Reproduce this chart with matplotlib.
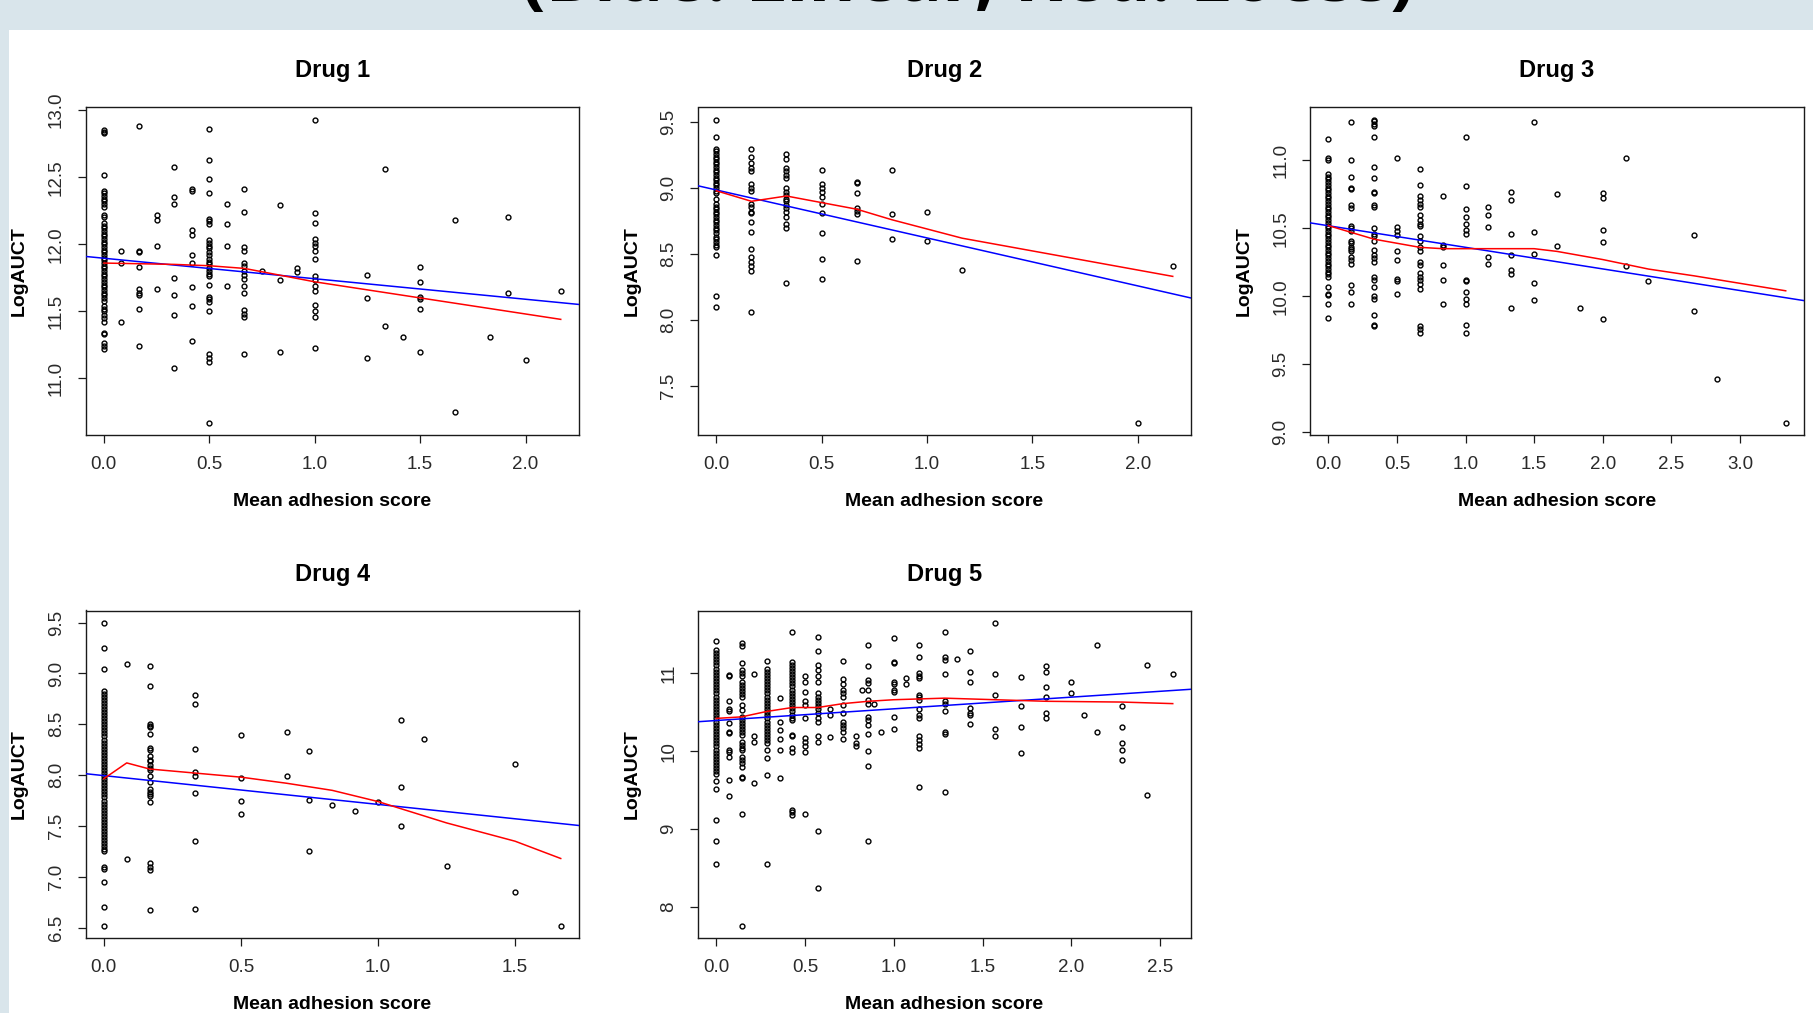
import matplotlib
matplotlib.use('Agg')
import matplotlib.pyplot as plt
from matplotlib.patches import Rectangle
import numpy as np

plt.rcParams['font.family'] = ['Liberation Sans', 'DejaVu Sans']

# ---------------- DATA ----------------
slide_title = "(Blue: Linear; Red: Loess)"
titles = ["Drug 1", "Drug 2", "Drug 3", "Drug 4", "Drug 5"]
x_label = "Mean adhesion score"
y_label = "LogAUCT"

# Drug 1
d1_scores = [0, 1/12, 1/6, 0.25, 1/3, 5/12, 0.5, 7/12, 2/3, 0.75, 5/6, 11/12, 1.0,
             1.25, 4/3, 17/12, 1.5, 5/3, 11/6, 23/12, 2.0, 13/6]
d1_logauct = [
    [12.85, 12.84, 12.83, 12.52, 12.40, 12.38, 12.36, 12.34, 12.32, 12.30, 12.28, 12.22, 12.20,
     12.16, 12.14, 12.12, 12.10, 12.08, 12.06, 12.04, 12.02, 12.00, 11.98, 11.96, 11.94, 11.92,
     11.90, 11.88, 11.86, 11.84, 11.82, 11.80, 11.78, 11.76, 11.74, 11.72, 11.70, 11.68, 11.66,
     11.64, 11.62, 11.60, 11.58, 11.54, 11.52, 11.50, 11.47, 11.45, 11.42, 11.34, 11.33, 11.26,
     11.24, 11.22],
    [11.95, 11.86, 11.42],
    [12.88, 11.95, 11.94, 11.83, 11.67, 11.64, 11.62, 11.52, 11.24],
    [12.22, 12.18, 11.99, 11.67],
    [12.58, 12.35, 12.30, 11.75, 11.62, 11.47, 11.08],
    [12.41, 12.40, 12.11, 12.07, 11.92, 11.86, 11.68, 11.54, 11.28],
    [12.86, 12.63, 12.49, 12.38, 12.19, 12.17, 12.15, 12.03, 12.01, 11.99, 11.97, 11.94, 11.92,
     11.89, 11.87, 11.85, 11.82, 11.80, 11.78, 11.76, 11.70, 11.61, 11.59, 11.57, 11.50, 11.18,
     11.15, 11.12, 10.67],
    [12.30, 12.15, 11.99, 11.69],
    [12.41, 12.24, 11.98, 11.95, 11.86, 11.84, 11.80, 11.77, 11.74, 11.69, 11.64, 11.51, 11.48,
     11.46, 11.18],
    [11.80],
    [12.29, 11.73, 11.20],
    [11.82, 11.79],
    [12.93, 12.23, 12.16, 12.04, 12.01, 11.99, 11.95, 11.89, 11.76, 11.73, 11.69, 11.65, 11.55,
     11.50, 11.46, 11.23],
    [11.77, 11.60, 11.15],
    [12.56, 11.39],
    [11.31],
    [11.83, 11.72, 11.61, 11.59, 11.52, 11.20],
    [12.18, 10.75],
    [11.31],
    [12.20, 11.64],
    [11.14],
    [11.65],
]
d1_linear = [11.896, -0.153]          # intercept, slope
d1_loess_x = [0, 1/3, 0.5, 2/3, 5/6, 1.0, 1.25, 1.5, 5/3, 23/12, 13/6]
d1_loess_y = [11.86, 11.85, 11.84, 11.82, 11.77, 11.72, 11.66, 11.60, 11.56, 11.50, 11.44]

# Drug 2
d2_scores = [0, 1/6, 1/3, 0.5, 2/3, 5/6, 1.0, 7/6, 2.0, 13/6]
d2_logauct = [
    [9.52, 9.39, 9.30, 9.28, 9.26, 9.24, 9.22, 9.20, 9.18, 9.16, 9.14, 9.12, 9.10, 9.08, 9.06,
     9.04, 9.02, 9.00, 8.98, 8.96, 8.92, 8.88, 8.86, 8.84, 8.82, 8.80, 8.78, 8.76, 8.74, 8.72,
     8.70, 8.68, 8.66, 8.63, 8.61, 8.59, 8.57, 8.55, 8.49, 8.18, 8.10],
    [9.30, 9.24, 9.19, 9.15, 9.13, 9.03, 9.00, 8.98, 8.88, 8.86, 8.82, 8.81, 8.74, 8.67, 8.54,
     8.48, 8.44, 8.41, 8.37, 8.06],
    [9.26, 9.22, 9.15, 9.13, 9.10, 9.08, 9.00, 8.97, 8.95, 8.92, 8.90, 8.87, 8.85, 8.82, 8.78,
     8.73, 8.70, 8.28],
    [9.14, 9.03, 9.00, 8.97, 8.93, 8.88, 8.81, 8.66, 8.46, 8.31],
    [9.05, 9.04, 8.96, 8.85, 8.83, 8.80, 8.45],
    [9.14, 8.80, 8.61],
    [8.82, 8.60],
    [8.38],
    [7.22],
    [8.41],
]
d2_linear = [8.986, -0.364]
d2_loess_x = [0, 1/6, 1/3, 0.5, 2/3, 5/6, 1.0, 7/6, 13/6]
d2_loess_y = [8.98, 8.90, 8.94, 8.89, 8.84, 8.76, 8.69, 8.62, 8.33]

# Drug 3
d3_scores = [0, 1/6, 1/3, 0.5, 2/3, 5/6, 1.0, 7/6, 4/3, 1.5, 5/3, 11/6, 2.0, 13/6, 7/3,
             8/3, 17/6, 10/3]
d3_logauct = [
    [11.16, 11.02, 11.00, 10.90, 10.88, 10.86, 10.84, 10.82, 10.80, 10.78, 10.76, 10.74, 10.72,
     10.70, 10.68, 10.66, 10.64, 10.62, 10.60, 10.58, 10.56, 10.54, 10.52, 10.50, 10.48, 10.46,
     10.44, 10.42, 10.40, 10.38, 10.36, 10.34, 10.32, 10.30, 10.28, 10.26, 10.24, 10.22, 10.20,
     10.18, 10.16, 10.14, 10.07, 10.02, 10.01, 9.94, 9.84],
    [11.28, 11.00, 10.88, 10.80, 10.79, 10.67, 10.65, 10.52, 10.50, 10.48, 10.41, 10.39, 10.36,
     10.35, 10.33, 10.29, 10.27, 10.24, 10.08, 10.03, 9.94],
    [11.30, 11.29, 11.27, 11.25, 11.17, 10.95, 10.87, 10.77, 10.76, 10.67, 10.66, 10.50, 10.46,
     10.44, 10.41, 10.34, 10.30, 10.28, 10.25, 10.14, 10.12, 10.07, 10.00, 9.98, 9.86, 9.79, 9.78],
    [11.02, 10.51, 10.48, 10.45, 10.33, 10.27, 10.13, 10.11, 10.02],
    [10.94, 10.82, 10.74, 10.71, 10.68, 10.66, 10.60, 10.56, 10.53, 10.52, 10.44, 10.41, 10.36,
     10.33, 10.25, 10.23, 10.17, 10.14, 10.12, 10.09, 10.05, 9.78, 9.76, 9.73],
    [10.74, 10.38, 10.36, 10.23, 10.12, 9.94],
    [11.17, 10.81, 10.64, 10.58, 10.53, 10.49, 10.46, 10.12, 10.11, 10.03, 9.98, 9.94, 9.79, 9.73],
    [10.66, 10.60, 10.51, 10.29, 10.24],
    [10.77, 10.71, 10.46, 10.30, 10.19, 10.16, 9.91],
    [11.28, 10.47, 10.31, 10.10, 9.97],
    [10.75, 10.37],
    [9.91],
    [10.76, 10.72, 10.49, 10.40, 9.83],
    [11.02, 10.22],
    [10.11],
    [10.45, 9.89],
    [9.39],
    [9.07],
]
d3_linear = [10.519, -0.159]
d3_loess_x = [0, 1/6, 1/3, 0.5, 2/3, 5/6, 1.0, 1.5, 5/3, 2.0, 7/3, 8/3, 10/3]
d3_loess_y = [10.52, 10.47, 10.42, 10.39, 10.36, 10.35, 10.35, 10.35, 10.33, 10.27, 10.20,
              10.15, 10.04]

# Drug 4
d4_scores = [0, 1/12, 1/6, 1/3, 0.5, 2/3, 0.75, 5/6, 11/12, 1.0, 13/12, 7/6, 1.25, 1.5, 5/3]
d4_logauct = [
    [9.50, 9.25, 9.04, 8.83, 8.80, 8.77, 8.74, 8.71, 8.68, 8.65, 8.62, 8.59, 8.56, 8.53, 8.50,
     8.47, 8.44, 8.41, 8.38, 8.35, 8.32, 8.29, 8.26, 8.23, 8.20, 8.17, 8.14, 8.11, 8.08, 8.05,
     8.02, 7.99, 7.96, 7.93, 7.90, 7.87, 7.84, 7.81, 7.78, 7.75, 7.72, 7.69, 7.66, 7.63, 7.60,
     7.57, 7.54, 7.51, 7.48, 7.45, 7.42, 7.39, 7.36, 7.33, 7.30, 7.27, 7.25, 7.10, 7.08, 6.95,
     6.70, 6.52],
    [9.09, 7.17],
    [9.07, 8.88, 8.50, 8.48, 8.47, 8.40, 8.27, 8.25, 8.19, 8.15, 8.14, 8.10, 8.07, 8.05, 7.99,
     7.93, 7.86, 7.83, 7.81, 7.79, 7.74, 7.14, 7.10, 7.07, 6.67],
    [8.79, 8.70, 8.26, 8.03, 7.99, 7.82, 7.35, 6.68],
    [8.39, 7.97, 7.75, 7.62],
    [8.42, 7.99],
    [8.24, 7.76, 7.25],
    [7.71],
    [7.65],
    [7.74],
    [8.54, 7.88, 7.50],
    [8.36],
    [7.11],
    [8.11, 6.85],
    [6.52],
]
d4_linear = [7.995, -0.283]
d4_loess_x = [0, 1/12, 1/6, 1/3, 0.5, 2/3, 5/6, 1.0, 13/12, 1.25, 1.5, 5/3]
d4_loess_y = [7.965, 8.12, 8.06, 8.02, 7.98, 7.92, 7.85, 7.74, 7.67, 7.53, 7.35, 7.18]

# Drug 5
d5_scores = [0, 1/14, 1/7, 3/14, 2/7, 5/14, 3/7, 1/2, 4/7, 9/14, 5/7, 11/14, 0.82, 6/7, 0.89,
             13/14, 1.0, 15/14, 8/7, 9/7, 19/14, 10/7, 11/7, 12/7, 13/7, 2.0, 29/14, 15/7,
             16/7, 17/7, 18/7]
d5_logauct = [
    [11.42, 11.30, 11.26, 11.22, 11.18, 11.14, 11.10, 11.06, 11.02, 10.98, 10.94, 10.90, 10.86,
     10.82, 10.78, 10.74, 10.70, 10.66, 10.62, 10.58, 10.54, 10.50, 10.46, 10.42, 10.38, 10.34,
     10.30, 10.26, 10.22, 10.18, 10.14, 10.10, 10.06, 10.02, 9.98, 9.94, 9.90, 9.86, 9.82, 9.78,
     9.74, 9.71, 9.61, 9.52, 9.11, 8.84, 8.55],
    [10.98, 10.96, 10.65, 10.54, 10.52, 10.36, 10.25, 10.23, 10.02, 9.99, 9.93, 9.63, 9.42],
    [11.39, 11.35, 11.13, 11.04, 11.00, 10.96, 10.89, 10.85, 10.81, 10.77, 10.73, 10.70, 10.59,
     10.53, 10.44, 10.40, 10.36, 10.32, 10.28, 10.24, 10.21, 10.12, 10.08, 10.04, 10.01, 9.93,
     9.89, 9.85, 9.80, 9.67, 9.65, 9.19, 7.76],
    [10.99, 10.19, 10.12, 9.59],
    [11.16, 11.06, 11.02, 10.98, 10.94, 10.90, 10.86, 10.82, 10.78, 10.74, 10.70, 10.66, 10.62,
     10.58, 10.54, 10.50, 10.46, 10.42, 10.38, 10.34, 10.30, 10.26, 10.22, 10.18, 10.14, 10.10,
     10.01, 9.91, 9.69, 8.55],
    [10.68, 10.38, 10.27, 10.15, 10.02, 9.66],
    [11.53, 11.15, 11.11, 11.07, 11.03, 10.99, 10.95, 10.91, 10.87, 10.83, 10.79, 10.75, 10.71,
     10.67, 10.63, 10.59, 10.55, 10.51, 10.47, 10.43, 10.40, 10.21, 10.19, 10.04, 9.99, 9.24,
     9.22, 9.18],
    [10.96, 10.89, 10.76, 10.64, 10.59, 10.43, 10.17, 10.12, 10.06, 9.99, 9.19],
    [11.47, 11.28, 11.11, 11.04, 10.96, 10.89, 10.74, 10.70, 10.66, 10.62, 10.58, 10.54, 10.49,
     10.42, 10.38, 10.19, 10.12, 8.98, 8.24],
    [10.54, 10.46, 10.18],
    [11.16, 10.92, 10.86, 10.79, 10.75, 10.70, 10.59, 10.49, 10.38, 10.34, 10.30, 10.25, 10.16],
    [10.19, 10.11, 10.07],
    [10.78],
    [11.36, 11.09, 10.91, 10.87, 10.79, 10.66, 10.61, 10.44, 10.40, 10.34, 10.22, 10.00, 9.81,
     8.84],
    [10.60],
    [10.24],
    [11.45, 11.15, 11.13, 10.89, 10.86, 10.79, 10.76, 10.44, 10.28],
    [10.94, 10.86],
    [11.36, 11.21, 11.00, 10.97, 10.94, 10.72, 10.69, 10.66, 10.54, 10.46, 10.43, 10.19, 10.14,
     10.09, 10.04, 9.54],
    [11.53, 11.21, 11.17, 10.99, 10.64, 10.61, 10.52, 10.25, 10.22, 9.48],
    [11.18],
    [11.28, 11.01, 10.89, 10.55, 10.49, 10.46, 10.35],
    [11.65, 10.99, 10.72, 10.28, 10.19],
    [10.95, 10.58, 10.31, 9.98],
    [11.09, 11.01, 10.82, 10.70, 10.49, 10.42],
    [10.89, 10.74],
    [10.46],
    [11.36, 10.24],
    [10.58, 10.31, 10.10, 10.02, 9.89],
    [11.11, 9.44],
    [10.99],
]
d5_linear = [10.393, 0.150]
d5_loess_x = [0, 1/7, 2/7, 3/7, 4/7, 5/7, 6/7, 1.0, 8/7, 9/7, 11/7, 13/7, 16/7, 18/7]
d5_loess_y = [10.42, 10.44, 10.51, 10.56, 10.56, 10.61, 10.64, 10.66, 10.67, 10.68, 10.66,
              10.64, 10.63, 10.61]

x_ticks = [[0, 0.5, 1.0, 1.5, 2.0], [0, 0.5, 1.0, 1.5, 2.0], [0, 0.5, 1.0, 1.5, 2.0, 2.5, 3.0],
           [0, 0.5, 1.0, 1.5], [0, 0.5, 1.0, 1.5, 2.0, 2.5]]
y_ticks = [[11.0, 11.5, 12.0, 12.5, 13.0], [7.5, 8.0, 8.5, 9.0, 9.5],
           [9.0, 9.5, 10.0, 10.5, 11.0], [6.5, 7.0, 7.5, 8.0, 8.5, 9.0, 9.5], [8, 9, 10, 11]]
y_fmt = ['{:.1f}', '{:.1f}', '{:.1f}', '{:.1f}', '{:.0f}']

# ---------------- LAYOUT ----------------
W, H = 1813, 1013
fig = plt.figure(figsize=(W / 100, H / 100), dpi=100)
fig.patch.set_facecolor('#d9e5eb')
fig.patches.append(Rectangle((9 / W, 0), 1 - 9 / W, 1 - 30 / H, transform=fig.transFigure,
                             facecolor='white', edgecolor='none', zorder=-5))
fig.text(968 / W, 1 - 1 / H, slide_title, ha='center', va='baseline', fontsize=52,
         fontweight='bold', family=['Open Sans', 'DejaVu Sans'], color='black', zorder=-4)

# boxes: left, right, top, bottom in pixels
boxes = [(85.6, 579, 107.5, 434.7), (698, 1191, 107.5, 434.7), (1310, 1804, 107.5, 434.7),
         (85.6, 579, 610.5, 937.7), (698, 1191, 610.5, 937.7)]

panels = [
    (d1_scores, d1_logauct, d1_linear, d1_loess_x, d1_loess_y),
    (d2_scores, d2_logauct, d2_linear, d2_loess_x, d2_loess_y),
    (d3_scores, d3_logauct, d3_linear, d3_loess_x, d3_loess_y),
    (d4_scores, d4_logauct, d4_linear, d4_loess_x, d4_loess_y),
    (d5_scores, d5_logauct, d5_linear, d5_loess_x, d5_loess_y),
]

ink = '#1a1a1a'
for i, (scores, vals, lin, lx, ly) in enumerate(panels):
    l, r, t, b = boxes[i]
    ax = fig.add_axes([l / W, 1 - b / H, (r - l) / W, (b - t) / H])
    ax.set_zorder(2)
    ax.set_facecolor('white')
    xs = np.concatenate([[s] * len(v) for s, v in zip(scores, vals)])
    ys = np.concatenate([np.asarray(v, float) for v in vals])
    ax.plot(xs, ys, 'o', mfc='none', mec='black', ms=3.5, mew=1.0, zorder=2)
    xr = xs.max() - xs.min()
    yr = ys.max() - ys.min()
    ax.set_xlim(xs.min() - 0.04 * xr, xs.max() + 0.04 * xr)
    ax.set_ylim(ys.min() - 0.04 * yr, ys.max() + 0.04 * yr)
    ax.axline((0, lin[0]), slope=lin[1], color='#0000ff', lw=1.1, zorder=3)
    ax.plot(lx, ly, color='#ff0000', lw=1.1, zorder=3)

    ax.set_xticks(x_ticks[i])
    ax.set_xticklabels(['{:.1f}'.format(v) for v in x_ticks[i]])
    ax.set_yticks(y_ticks[i])
    ax.set_yticklabels([y_fmt[i].format(v) for v in y_ticks[i]])
    ax.tick_params(direction='out', length=6, width=0.9, labelsize=13.5, pad=9,
                   color=ink, labelcolor='#2a2a2a')
    for lab in ax.get_yticklabels():
        lab.set_rotation(90)
        lab.set_va('center')
    for sp in ax.spines.values():
        sp.set_linewidth(1.0)
        sp.set_color(ink)

    cx = (l + r) / 2
    fig.text(cx / W, 1 - (t - 36.5) / H, titles[i], ha='center', va='center', fontsize=17,
             fontweight='bold', color='black')
    fig.text(cx / W, 1 - (b + 67) / H, x_label, ha='center', va='center', fontsize=14,
             fontweight='bold', color='black')
    fig.text((l - 66) / W, 1 - ((t + b) / 2) / H, y_label, rotation=90, ha='center',
             va='center', fontsize=14, fontweight='bold', color='black')

fig.savefig('out.png', dpi=100, facecolor=fig.get_facecolor())
